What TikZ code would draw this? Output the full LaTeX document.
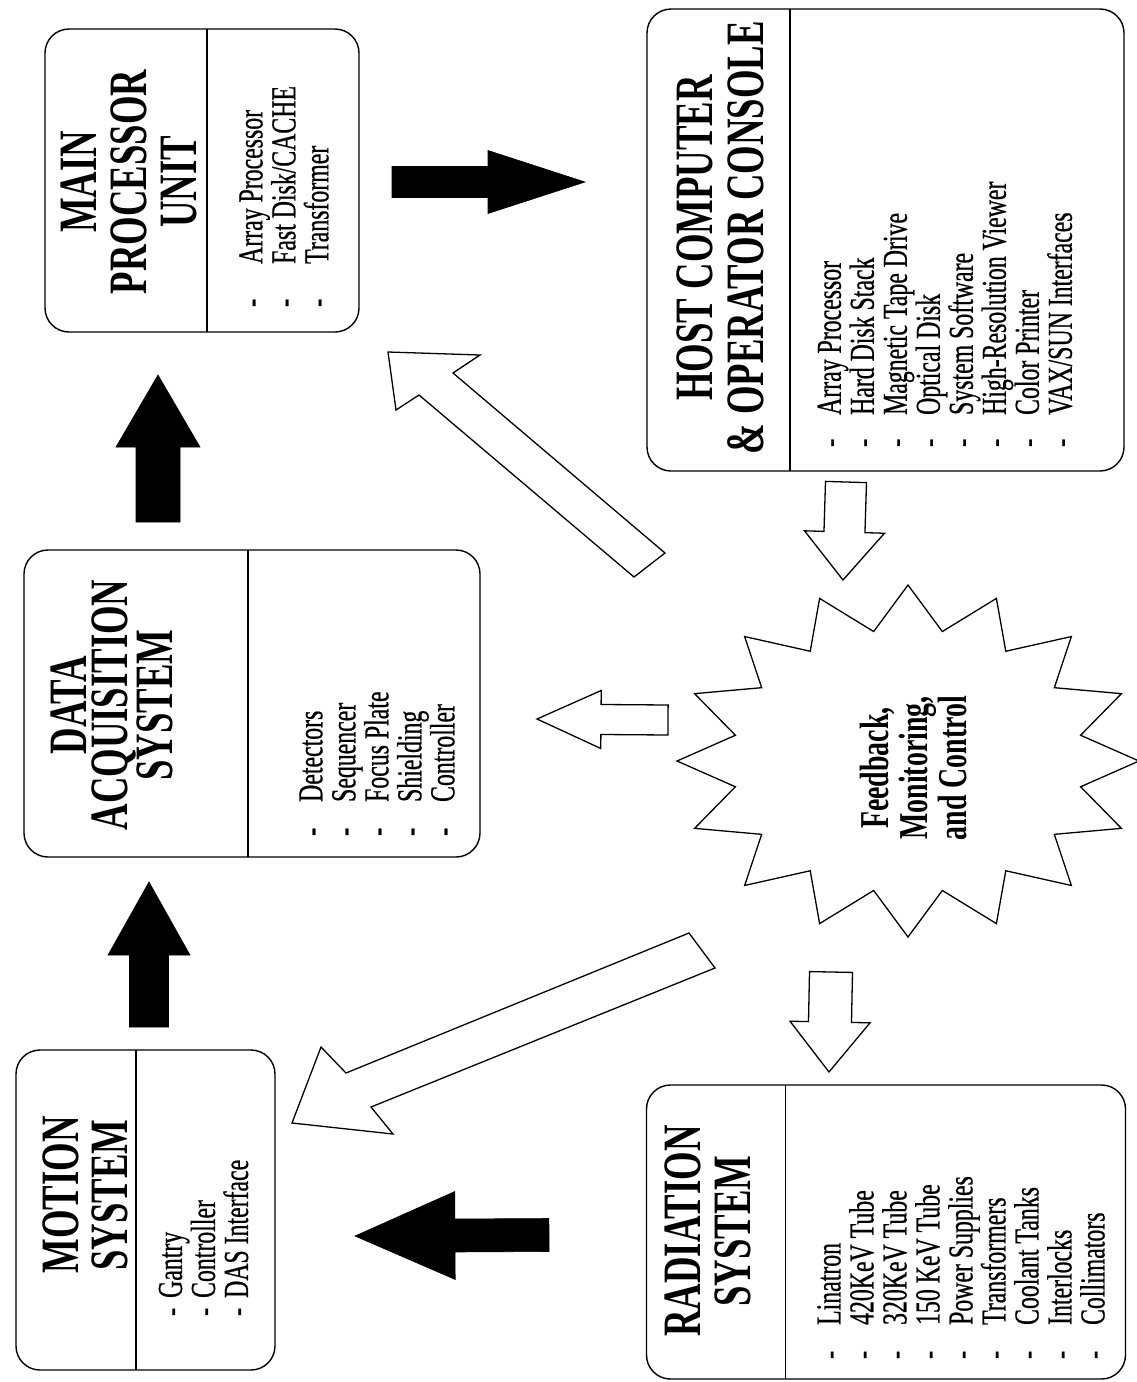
\documentclass[tikz,border=0pt]{standalone}
\usepackage{fontspec}
\setmainfont{Liberation Serif}[FakeStretch=0.68]
\newfontfamily\itemfont{Liberation Serif}[FakeStretch=0.68, FakeBold=0.6]
\usetikzlibrary{calc}
\newcommand\li[1][26pt]{-\hspace{#1}}
% #1 name, #2 style, #3 tail, #4 tip, #5 stem half width, #6 head half width, #7 head length
\newcommand\blockarrow[7]{%
  \coordinate (#1h) at ($(#4)!#7!(#3)$);
  \draw[#2] ($(#3)!#5!90:(#4)$) -- ($(#1h)!#5!90:(#4)$) -- ($(#1h)!#6!90:(#4)$) -- (#4)
    -- ($(#1h)!#6!-90:(#4)$) -- ($(#1h)!#5!-90:(#4)$) -- ($(#3)!#5!-90:(#4)$) -- cycle;}
\tikzset{
  box/.style={draw, line width=1.4pt, rounded corners=24pt, inner sep=0pt, outer sep=0pt},
  ttl/.style={rotate=90, align=center, inner sep=0pt, font=\bfseries\fontsize{54}{50}\selectfont},
  itm/.style={rotate=90, anchor=west, align=left, inner sep=0pt, font=\itemfont\fontsize{35}{33}\selectfont},
  solidarrow/.style={fill=black, draw=black, line width=0.6pt, line join=miter},
  hollowarrow/.style={fill=white, draw=black, line width=1.3pt, line join=miter},
  divider/.style={line width=1.4pt},
  outl/.style={draw=black, line width=1.3pt, line join=miter},
}
\begin{document}
\begin{tikzpicture}[x=1pt, y=-1pt]
\useasboundingbox (0,0) rectangle (1136,1382);
\fill[white] (0,0) rectangle (1136,1382);

% ---------------- boxes ----------------
\node[box, minimum width=314pt, minimum height=303pt] (mpu) at (202,180.5) {};
\draw[divider] ([xshift=162pt]mpu.north west) -- ([xshift=162pt]mpu.south west);
\node[ttl] (mpuT) at (129,182) {MAIN\\PROCESSOR\\UNIT};
\node[itm] (mpuI) at (284,307) {\li[35pt]Array Processor\\\li[35pt]Fast Disk/CACHE\\\li[35pt]Transformer};

\node[box, minimum width=477pt, minimum height=462pt] (host) at (885.5,240) {};
\draw[divider] ([xshift=143pt]host.north west) -- ([xshift=143pt]host.south west);
\node[ttl, font=\bfseries\fontsize{54}{51}\selectfont] (hostT) at (720,238) {HOST COMPUTER\\\& OPERATOR CONSOLE};
\node[itm] (hostI) at (945,447) {\li[24pt]Array Processor\\\li[24pt]Hard Disk Stack\\\li[24pt]Magnetic Tape Drive\\\li[24pt]Optical Disk\\\li[24pt]System Software\\\li[24pt]High-Resolution Viewer\\\li[24pt]Color Printer\\\li[24pt]VAX/SUN Interfaces};

\node[box, minimum width=456pt, minimum height=307pt] (das) at (252,703.5) {};
\draw[divider] ([xshift=224pt]das.north west) -- ([xshift=224pt]das.south west);
\node[ttl, font=\bfseries\fontsize{54}{41}\selectfont] (dasT) at (112,705) {DATA\\ACQUISITION\\SYSTEM};
\node[itm] (dasI) at (377,836) {\li[26pt]Detectors\\\li[26pt]Sequencer\\\li[26pt]Focus Plate\\\li[26pt]Shielding\\\li[26pt]Controller};

\node[box, minimum width=259pt, minimum height=320pt] (mot) at (145.5,1210) {};
\draw[divider] ([xshift=120pt]mot.north west) -- ([xshift=120pt]mot.south west);
\node[ttl, font=\bfseries\fontsize{54}{49}\selectfont] (motT) at (85,1195) {MOTION\\SYSTEM};
\node[itm] (motI) at (203.5,1316) {\li[10pt]Gantry\\\li[10pt]Controller\\\li[10pt]DAS Interface};

\node[box, minimum width=479pt, minimum height=294pt] (rad) at (886,1232) {};
\draw[divider] ([xshift=139pt]rad.north west) -- ([xshift=139pt]rad.south west);
\node[ttl] (radT) at (708,1231) {RADIATION\\SYSTEM};
\node[itm] (radI) at (961,1359) {\li[26pt]Linatron\\\li[26pt]420KeV Tube\\\li[26pt]320KeV Tube\\\li[26pt]150 KeV Tube\\\li[26pt]Power Supplies\\\li[26pt]Transformers\\\li[26pt]Coolant Tanks\\\li[26pt]Interlocks\\\li[26pt]Collimators};

% ---------------- starburst ----------------
\draw[outl, fill=white] (908,585) \foreach \i in {1,...,31} {
  -- ({908+ifthenelse(mod(\i,2)==0,231,176)*cos(90+11.25*\i)},
      {761-ifthenelse(mod(\i,2)==0,176,132)*sin(90+11.25*\i)}) } -- cycle;
\node[rotate=90, align=center, inner sep=0pt, font=\bfseries\fontsize{41}{39}\selectfont] (fmc) at (913,768) {Feedback,\\Monitoring,\\and Control};

% ---------------- solid arrows ----------------
\coordinate (A1s) at (392,182);  \coordinate (A1e) at (585,182);
\blockarrow{A1}{solidarrow}{A1s}{A1e}{15.5pt}{31.5pt}{97pt}
\coordinate (A2s) at (158,522);  \coordinate (A2e) at (158,375);
\blockarrow{A2}{solidarrow}{A2s}{A2e}{22pt}{42pt}{72pt}
\coordinate (A3s) at (149,1027); \coordinate (A3e) at (149,882);
\blockarrow{A3}{solidarrow}{A3s}{A3e}{19.5pt}{41pt}{73pt}
\coordinate (A4s) at (549,1235); \coordinate (A4e) at (355,1236);
\blockarrow{A4}{solidarrow}{A4s}{A4e}{16.5pt}{44pt}{100pt}

% ---------------- hollow arrows ----------------
\coordinate (H1s) at (846,482);  \coordinate (H1e) at (843,580);
\blockarrow{H1}{hollowarrow}{H1s}{H1e}{20.5pt}{40pt}{48pt}
\coordinate (H2s) at (668,720);  \coordinate (H2e) at (537,719);
\blockarrow{H2}{hollowarrow}{H2s}{H2e}{15pt}{29pt}{64pt}
\coordinate (H3s) at (831,972);  \coordinate (H3e) at (829,1072);
\blockarrow{H3}{hollowarrow}{H3s}{H3e}{21.5pt}{40pt}{50pt}

\coordinate (D1e) at (388,352);
\draw[hollowarrow] (D1e) -- (480,355) -- (453,373) -- (665,553) -- (634,577) -- (419,395) -- (396,410) -- cycle;
\coordinate (D2e) at (292,1123);
\draw[hollowarrow] (D2e) -- (321,1047) -- (346,1073) -- (689,933) -- (715,968) -- (371,1107) -- (393,1134) -- cycle;
\end{tikzpicture}
\end{document}
